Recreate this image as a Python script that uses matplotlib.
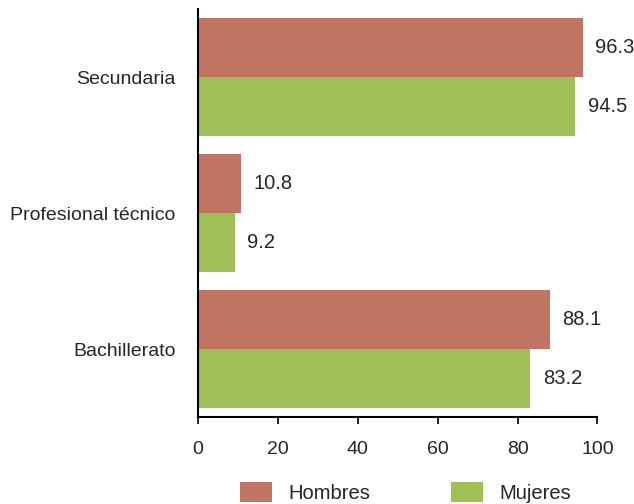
import numpy as np
import matplotlib
matplotlib.use('Agg')
import matplotlib.pyplot as plt

# Data (bottom to top)
categories = ['Bachillerato', 'Profesional técnico', 'Secundaria']
hombres = [88.1, 10.8, 96.3]
mujeres = [83.2, 9.2, 94.5]

c_hombres = '#C07563'
c_mujeres = '#A0BF56'
txt = '#262626'

plt.rcParams['font.family'] = ['Liberation Sans', 'DejaVu Sans']

fig = plt.figure(figsize=(6.34, 5.04), dpi=100)
ax = fig.add_axes([0.3123, 0.1726, 0.63, 0.8094])

y = np.arange(len(categories))
h = 0.435
b1 = ax.barh(y + h / 2, hombres, height=h, color=c_hombres, label='Hombres')
b2 = ax.barh(y - h / 2, mujeres, height=h, color=c_mujeres, label='Mujeres')

for bars, vals in [(b1, hombres), (b2, mujeres)]:
    for bar, v in zip(bars, vals):
        ax.annotate(f'{v:.1f}', (v, bar.get_y() + bar.get_height() / 2),
                    xytext=(9, 0), textcoords='offset points',
                    ha='left', va='center', fontsize=14.5, color=txt)

ax.set_xlim(0, 100)
ax.set_ylim(-0.5, 2.5)
ax.set_xticks([0, 20, 40, 60, 80, 100])
ax.set_yticks(y)
ax.set_yticklabels(categories)
ax.tick_params(axis='y', length=0, pad=16, labelsize=14, colors=txt)
ax.tick_params(axis='x', length=5, width=1.2, labelsize=14, colors=txt, pad=12)
ax.tick_params(axis='x', color='black')
for s in ['top', 'right']:
    ax.spines[s].set_visible(False)
for s in ['left', 'bottom']:
    ax.spines[s].set_linewidth(1.5)

ax.legend(loc='upper center', bbox_to_anchor=(0.52, -0.14), ncol=2, frameon=False,
          fontsize=14.5, handlelength=1.6, handleheight=1.1, columnspacing=4.0,
          handletextpad=0.8, labelcolor=txt, borderaxespad=0)

fig.savefig('out.png', dpi=100)
